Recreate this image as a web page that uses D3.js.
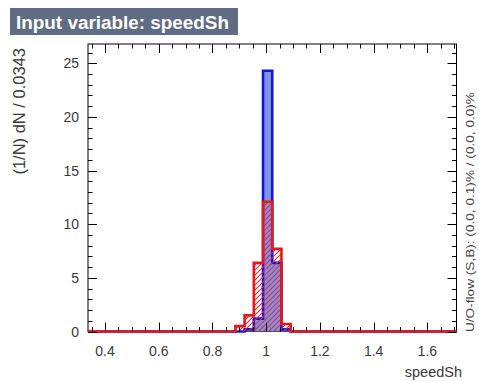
<!DOCTYPE html>
<html>
<head>
<meta charset="utf-8">
<script src="https://cdn.jsdelivr.net/npm/d3@7/dist/d3.min.js"></script>
<style>
  body { margin: 0; background: #fff; }
  svg { display: block; font-family: "Liberation Sans", Arial, Helvetica, sans-serif; }
</style>
</head>
<body>
<svg id="chart" width="479" height="381"></svg>
<script>
// Histogram binning for the input variable
const variableName = "speedSh";
const xMin = 0.3366;
const binWidth = 0.0343;
const nBins = 40;

// Normalised bin contents, (1/N) dN / binWidth
const signal = [
  0, 0, 0, 0, 0, 0, 0, 0, 0, 0,
  0, 0, 0, 0, 0, 0, 0, 0.2, 1.2, 24.3,
  6.4, 0.2, 0, 0, 0, 0, 0, 0, 0, 0,
  0, 0, 0, 0, 0, 0, 0, 0, 0, 0
];
const background = [
  0, 0, 0, 0, 0, 0, 0, 0, 0, 0,
  0, 0, 0, 0, 0, 0, 0.5, 1.5, 6.4, 12.1,
  7.7, 0.7, 0, 0, 0, 0, 0, 0, 0, 0,
  0, 0, 0, 0, 0, 0, 0, 0, 0, 0
];

const xTickValues = [0.4, 0.6, 0.8, 1.0, 1.2, 1.4, 1.6];
const xTickLabels = ["0.4", "0.6", "0.8", "1", "1.2", "1.4", "1.6"];
const yTickValues = [0, 5, 10, 15, 20, 25];
const yTickLabels = ["0", "5", "10", "15", "20", "25"];
const yMax = 26.8;

const titleText = "Input variable: speedSh";
const yTitle = "(1/N) dN / 0.0343";
const overflowText = "U/O-flow (S,B): (0.0, 0.1)% / (0.0, 0.0)%";

const frame = { left: 88, right: 456.5, top: 44, bottom: 331.5 };
const xMax = xMin + nBins * binWidth;

const svg = d3.select("#chart");

const x = d3.scaleLinear().domain([xMin, xMax]).range([frame.left, frame.right]);
const y = d3.scaleLinear().domain([0, yMax]).range([frame.bottom, frame.top]);

// Hatch pattern for the background histogram
const defs = svg.append("defs");
const hatch = defs.append("pattern")
  .attr("id", "hatchRed")
  .attr("patternUnits", "userSpaceOnUse")
  .attr("width", 5).attr("height", 5);
hatch.append("path")
  .attr("d", "M-1,1 L1,-1 M0,5 L5,0 M4,6 L6,4")
  .attr("stroke", "#e02a3a").attr("stroke-width", 1.1);

// Title box
svg.append("rect")
  .attr("x", 10).attr("y", 8).attr("width", 228).attr("height", 27)
  .attr("fill", "#5f6c84");
svg.append("text")
  .attr("x", 16).attr("y", 28.5)
  .attr("fill", "#ffffff")
  .attr("font-weight", "bold")
  .attr("font-size", 18)
  .attr("textLength", 213)
  .attr("lengthAdjust", "spacingAndGlyphs")
  .text(titleText);

// Frame
svg.append("rect")
  .attr("x", frame.left).attr("y", frame.top)
  .attr("width", frame.right - frame.left).attr("height", frame.bottom - frame.top)
  .attr("fill", "none").attr("stroke", "#000").attr("stroke-width", 1);

// Step outline points for a histogram
function stepPoints(values) {
  const pts = [[xMin, 0]];
  values.forEach((v, i) => {
    const x0 = xMin + i * binWidth;
    const x1 = x0 + binWidth;
    pts.push([x0, v], [x1, v]);
  });
  pts.push([xMax, 0]);
  return pts;
}

const line = d3.line().x(d => x(d[0])).y(d => y(d[1]));
const area = d3.area().x(d => x(d[0])).y0(y(0)).y1(d => y(d[1]));

const sigPts = stepPoints(signal);
const bkgPts = stepPoints(background);

// Signal: filled, blue outline
svg.append("path").attr("d", area(sigPts)).attr("fill", "#7f94e8");
svg.append("path").attr("d", line(sigPts))
  .attr("fill", "none").attr("stroke", "#1414dc").attr("stroke-width", 2.6)
  .attr("stroke-linejoin", "miter");

// Background: hatched, red outline
svg.append("path").attr("d", area(bkgPts)).attr("fill", "url(#hatchRed)");
svg.append("path").attr("d", line(bkgPts))
  .attr("fill", "none").attr("stroke", "#e81818").attr("stroke-width", 2.6)
  .attr("stroke-linejoin", "miter");

// Ticks (drawn inward on all four sides)
const ticks = svg.append("g").attr("stroke", "#000").attr("stroke-width", 1);
const xMinor = d3.range(0.35, 1.7001, 0.05).filter(v => v > xMin && v < xMax);
xMinor.forEach(v => {
  const isMajor = xTickValues.some(t => Math.abs(t - v) < 1e-6);
  const len = isMajor ? 9 : 4.5;
  const px = Math.round(x(v)) + 0.5;
  ticks.append("line").attr("x1", px).attr("x2", px).attr("y1", frame.bottom).attr("y2", frame.bottom - len);
  ticks.append("line").attr("x1", px).attr("x2", px).attr("y1", frame.top).attr("y2", frame.top + len);
});
d3.range(0, Math.floor(yMax) + 1).forEach(v => {
  const isMajor = yTickValues.includes(v);
  const len = isMajor ? 9 : 4.5;
  const py = Math.round(y(v)) + 0.5;
  ticks.append("line").attr("x1", frame.left).attr("x2", frame.left + len).attr("y1", py).attr("y2", py);
  ticks.append("line").attr("x1", frame.right).attr("x2", frame.right - len).attr("y1", py).attr("y2", py);
});

// Tick labels
const labelColor = "#3a3a3a";
svg.append("g").selectAll("text").data(xTickValues).join("text")
  .attr("x", d => x(d)).attr("y", 356)
  .attr("text-anchor", "middle").attr("font-size", 14).attr("fill", labelColor)
  .text((d, i) => xTickLabels[i]);
svg.append("g").selectAll("text").data(yTickValues).join("text")
  .attr("x", 79).attr("y", d => y(d) + 5)
  .attr("text-anchor", "end").attr("font-size", 14).attr("fill", labelColor)
  .text((d, i) => yTickLabels[i]);

// Axis titles
svg.append("text")
  .attr("x", 462).attr("y", 377)
  .attr("text-anchor", "end").attr("font-size", 14.5).attr("fill", labelColor)
  .text(variableName);
svg.append("text")
  .attr("transform", "translate(25,48) rotate(-90)")
  .attr("text-anchor", "end").attr("font-size", 16.5).attr("fill", labelColor)
  .text(yTitle);

// Under/overflow note
svg.append("text")
  .attr("transform", "translate(474,332) rotate(-90)")
  .attr("text-anchor", "start").attr("font-size", 10).attr("fill", "#444")
  .attr("textLength", 240)
  .attr("lengthAdjust", "spacingAndGlyphs")
  .text(overflowText);
</script>
</body>
</html>
